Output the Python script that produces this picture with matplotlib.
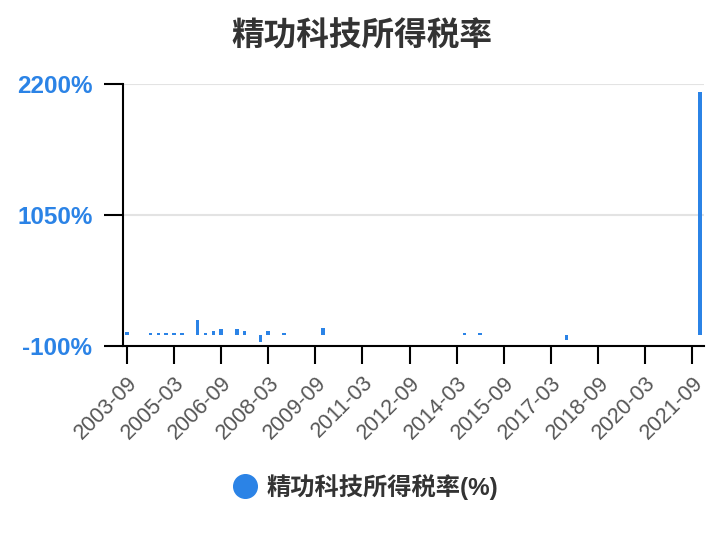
import matplotlib
matplotlib.use("Agg")
import matplotlib.pyplot as plt  # noqa: E402
import numpy as np  # noqa: E402
import pandas as pd  # noqa: E402

plt.rcParams["font.family"] = ["Liberation Sans", "Noto Sans CJK SC", "DejaVu Sans"]

BLUE = "#2b83e6"
nan = np.nan

# quarterly report dates, 2003-09 .. 2021-12
quarters = [p.strftime("%Y-%m") for p in pd.period_range("2003-09", "2021-12", freq="Q-DEC").to_timestamp(how="end")]
# income tax rate (%) per quarter, NaN where no bar is drawn
tax_rate = [
    23, nan, nan, 18, 18, 18, 18, 18, nan, 129,
    18, 35, 53, nan, 53, 35, nan, -65, 35, nan,
    18, nan, nan, nan, nan, 58, nan, nan, nan, nan,
    nan, nan, nan, nan, nan, nan, nan, nan, nan, nan,
    nan, nan, nan, 18, nan, 18, nan, nan, nan, nan,
    nan, nan, nan, nan, nan, nan, -45, nan, nan, nan,
    nan, nan, nan, nan, nan, nan, nan, nan, nan, nan,
    nan, nan, nan, 2130,
]
y_ticks = [-100, 1050, 2200]

fig = plt.figure(figsize=(7.24, 5.4), dpi=100)
ax = fig.add_axes([0.1699, 0.3593, 0.8025, 0.4851])

x = np.arange(len(quarters))
ax.bar(x, tax_rate, width=0.45, color=BLUE, label="精功科技所得税率(%)")

ax.set_xlim(-0.5, len(quarters) - 0.5)
ax.set_ylim(-100, 2200)
ax.set_yticks(y_ticks)
ax.set_yticklabels([f"{v}%" for v in y_ticks])
ax.set_xticks(x[::6])
ax.set_xticklabels(quarters[::6], rotation=45, ha="right", rotation_mode="anchor")

for lab in ax.get_yticklabels():
    lab.set_color(BLUE); lab.set_fontweight("bold"); lab.set_fontsize(17.5)
for lab in ax.get_xticklabels():
    lab.set_color("#555555"); lab.set_fontsize(15.5)

ax.tick_params(axis="y", length=14, width=1.5, pad=8)
ax.tick_params(axis="x", length=13, width=1.5, pad=6)
ax.grid(axis="y", color="#e3e3e3", lw=1.5)
ax.set_axisbelow(True)
for side in ("top", "right"):
    ax.spines[side].set_visible(False)
for side in ("left", "bottom"):
    ax.spines[side].set_linewidth(1.5)
    ax.spines[side].set_color("black")

fig.suptitle("精功科技所得税率", x=0.5, y=0.96, fontsize=23.5, fontweight="bold", color="#333333")

handle = plt.Line2D([], [], marker="o", ls="", color=BLUE, markersize=17)
fig.legend([handle], ["精功科技所得税率(%)"], loc="center", bbox_to_anchor=(0.5, 0.098),
           frameon=False, prop={"size": 17.5, "weight": "bold"}, labelcolor="#333333",
           handletextpad=0.1, handlelength=1.6)

fig.savefig("out.png", dpi=100)
plt.close(fig)
